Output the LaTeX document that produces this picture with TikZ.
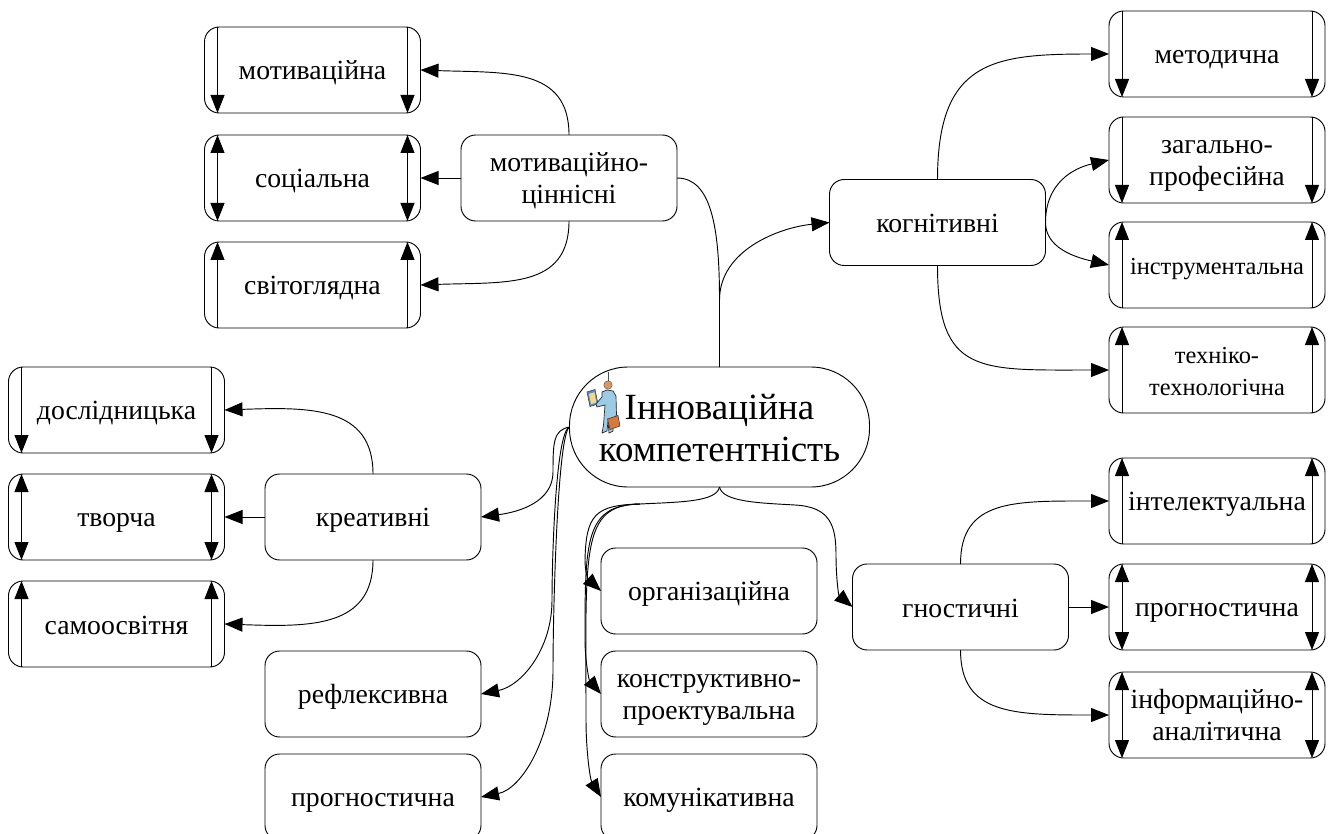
\documentclass[tikz,border=0pt]{standalone}
\usepackage{fontspec}
\setmainfont{Liberation Serif}
\usetikzlibrary{arrows.meta}
\definecolor{iconblue}{HTML}{9CCBE6}
\definecolor{iconhead}{HTML}{D9985F}
\definecolor{iconcase}{HTML}{D9783A}
\definecolor{iconpad}{HTML}{5B8FC7}
\definecolor{iconpage}{HTML}{F2D98A}
\tikzset{
  tip/.tip={Triangle[length=13.5pt,width=10.5pt]},
  box/.style={draw,rounded corners=11pt,minimum width=162pt,minimum height=64.5pt,inner sep=0pt,outer sep=0pt,align=center,font=\fontsize{20.8}{24}\selectfont,execute at begin node={\rule[-4pt]{0pt}{23pt}}},
  two/.style={execute at begin node={\rule{0pt}{42pt}}},
  small/.style={font=\fontsize{18.3}{24}\selectfont},
  pill/.style={draw,rounded corners=44pt,minimum width=225pt,minimum height=90pt,inner sep=0pt,outer sep=0pt,align=center,font=\fontsize{27.7}{31.5}\selectfont,execute at begin node={\rule{0pt}{52pt}}},
  link/.style={-tip,line width=.7pt},
  plain/.style={line width=.7pt},
  bar/.style={line width=.7pt}
}
\newcommand{\bars}[2]{%
  \draw[bar,#2] ([xshift=9.75pt]#1.north west) -- ([xshift=9.75pt]#1.south west);
  \draw[bar,#2] ([xshift=-9.75pt]#1.north east) -- ([xshift=-9.75pt]#1.south east);}
\begin{document}
\begin{tikzpicture}[x=.75pt,y=-.75pt,line width=.7pt]
\useasboundingbox (0,0) rectangle (1334,834);
\clip (0,0) rectangle (1334,834);
\node[pill] (p) at (719.5,427) {Інноваційна\\компетентність};
% top-left group
\node[box] (mot) at (312.5,70) {мотиваційна};
\node[box] (soc) at (312.5,178) {соціальна};
\node[box] (svit) at (312.5,285) {світоглядна};
\node[box,two] (mc) at (569,178) {мотиваційно-\\ціннісні};
% right-top group
\node[box] (kog) at (937.5,222.5) {когнітивні};
\node[box] (met) at (1217,54) {методична};
\node[box,two] (zag) at (1217,160) {загально-\\професійна};
\node[box,small] (ins) at (1217,265) {інструментальна};
\node[box,small,two] (tex) at (1217,370) {техніко-\\технологічна};
% right-bottom group
\node[box] (gn) at (960.5,607) {гностичні};
\node[box] (int) at (1217,501) {інтелектуальна};
\node[box] (prr) at (1217,607) {прогностична};
\node[box,two] (inf) at (1217,715) {інформаційно-\\аналітична};
% left group
\node[box] (dos) at (116.5,410) {дослідницька};
\node[box] (tvo) at (116.5,517) {творча};
\node[box] (sam) at (116.5,624) {самоосвітня};
\node[box] (kre) at (373,517) {креативні};
\node[box] (ref) at (373,694) {рефлексивна};
\node[box] (prl) at (373,797) {прогностична};
% centre column
\node[box] (org) at (709,591) {організаційна};
\node[box,two] (kon) at (709,694) {конструктивно-\\проектувальна};
\node[box] (kom) at (709,797) {комунікативна};
% inner bars
\bars{mot}{-tip}\bars{soc}{tip-tip}\bars{svit}{tip-}
\bars{met}{-tip}\bars{zag}{-tip}\bars{ins}{tip-}\bars{tex}{tip-}
\bars{int}{tip-}\bars{prr}{tip-tip}\bars{inf}{tip-tip}
\bars{dos}{-tip}\bars{tvo}{tip-tip}\bars{sam}{tip-}
% waypoints
\coordinate (topj) at (719.5,300);
\coordinate (lj) at (553,472);
\coordinate (lja) at (552,600);
\coordinate (ljb) at (553,670);
\coordinate (bj) at (640,504);
\coordinate (rj) at (795,505);
\coordinate (rk) at (836,555);
\coordinate (ba) at (585,560);
\coordinate (bb) at (585,640);
\coordinate (bc) at (586,720);
% top-left
\draw[link] (mc.north) .. controls +(0,-68) and +(85,3) .. (mot.east);
\draw[link] (mc.west) -- (soc.east);
\draw[link] (mc.south) .. controls +(0,68) and +(85,-3) .. (svit.east);
\draw[plain] (p.north) -- (topj) .. controls +(0,-70) and +(35,0) .. (mc.east);
\draw[link] (topj) .. controls +(0,-50) and +(-50,5) .. (kog.west);
% right
\draw[link] (kog.north) .. controls +(0,-120) and +(-115,0) .. (met.west);
\draw[link] (kog.east) .. controls +(0,-40) and +(-35,8) .. (zag.west);
\draw[link] (kog.east) .. controls +(0,25) and +(-35,-8) .. (ins.west);
\draw[link] (kog.south) .. controls +(0,110) and +(-130,0) .. (tex.west);
\draw[link] (gn.north) .. controls +(0,-65) and +(-95,0) .. (int.west);
\draw[link] (gn.east) -- (prr.west);
\draw[link] (gn.south) .. controls +(0,65) and +(-95,0) .. (inf.west);
% left
\draw[link] (kre.north) .. controls +(0,-68) and +(85,-3) .. (dos.east);
\draw[link] (kre.west) -- (tvo.east);
\draw[link] (kre.south) .. controls +(0,68) and +(85,3) .. (sam.east);
\draw[link] (p.west) .. controls +(-16,3) and +(0,-30) .. (lj) .. controls +(0,30) and +(38,-5) .. (kre.east);
\draw[link] (p.west) .. controls +(-14,5) and +(0,-40) .. (lja) .. controls +(0,50) and +(40,-8) .. (ref.east);
\draw[link] (p.west) .. controls +(-12,7) and +(0,-60) .. (ljb) .. controls +(0,70) and +(40,-8) .. (prl.east);
% bottom
\draw[plain] (p.south) .. controls +(-3,15) and +(40,-2) .. (bj);
\draw[link] (bj) .. controls +(-45,1) and +(1,-45) .. (ba) .. controls +(0,12) and +(-13,-12) .. (org.west);
\draw[link] (bj) .. controls +(-55,1) and +(0,-100) .. (bb) .. controls +(0,20) and +(-12,-14) .. (kon.west);
\draw[link] (bj) .. controls +(-60,1) and +(0,-170) .. (bc) .. controls +(0,30) and +(-11,-18) .. (kom.west);
\draw[link] (p.south) .. controls +(3,15) and +(-35,-2) .. (rj) .. controls +(35,2) and +(0,-30) .. (rk) .. controls +(0,22) and +(-14,-12) .. (gn.west);
% icon
\draw[black!70,line width=.5pt] (608,372) -- (608,382);
\fill[iconpad,draw=black!80,line width=.4pt] (587,392) -- (595,389.5) -- (598,404) -- (590,406.5) -- cycle;
\fill[iconpage] (589,394) -- (594.5,392.3) -- (596.3,402.5) -- (591,404.2) -- cycle;
\fill[iconblue,draw=black!85,line width=.5pt] (602,392) -- (607,390) -- (613,391) -- (616,396) -- (616.5,415) -- (613.5,420) -- (613,431) -- (609,433) -- (608,421) -- (607,431) -- (602,433) -- (603.5,425) -- (605,405) -- (597,407) -- (596,404) -- (602,397) -- cycle;
\fill[iconhead,draw=black!70,line width=.3pt] (608,385) circle (4.2);
\fill[iconcase,draw=black!80,line width=.4pt] (607.5,419) -- (618,415.5) -- (620,426) -- (610,429.5) -- cycle;
\end{tikzpicture}
\end{document}
